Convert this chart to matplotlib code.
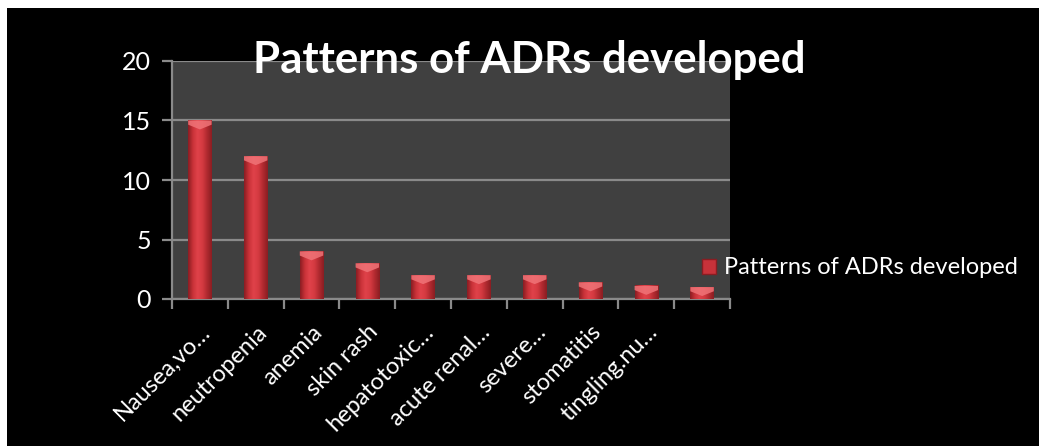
import numpy as np
import matplotlib
matplotlib.use("Agg")
import matplotlib.pyplot as plt
from matplotlib.colors import LinearSegmentedColormap
from matplotlib.patches import Rectangle, Patch, Polygon

plt.rcParams["font.family"] = ["Lato", "DejaVu Sans"]

categories = ["Nausea,vo…", "neutropenia", "anemia", "skin rash", "hepatotoxic…",
              "acute renal…", "severe…", "stomatitis", "tingling.nu…", ""]
values = [15, 12, 4, 3, 2, 2, 2, 1.4, 1.1, 1.0]
series_name = "Patterns of ADRs developed"
y_ticks = [0, 5, 10, 15, 20]

W, H = 1039, 446
fig = plt.figure(figsize=(W / 100, H / 100), dpi=100, facecolor="white")
# black chart area (white strip left/top like the screenshot)
fig.add_artist(Rectangle((7 / W, 0), 1, 1 - 8 / H, transform=fig.transFigure,
                         facecolor="black", edgecolor="none", zorder=0))

ax = fig.add_axes([172 / W, 1 - 299 / H, (730 - 172) / W, (299 - 61) / H])
ax.set_facecolor("#404040")

cmap = LinearSegmentedColormap.from_list(
    "bar", ["#8a1d22", "#c93238", "#e0424a", "#d53a41", "#b02a30", "#8a1d22"])
grad = np.linspace(0, 1, 64)[None, :]
w = 0.42
for i, v in enumerate(values):
    x0, x1 = i - w / 2, i + w / 2
    ax.imshow(grad, extent=[x0, x1, 0, v], aspect="auto", cmap=cmap,
              zorder=3, interpolation="bicubic")
    cap = Polygon([(x0, v), (x1, v), (x1, v - 0.35), (i, v - 0.75), (x0, v - 0.35)],
                  closed=True, facecolor="#f07478", edgecolor="none", alpha=0.85, zorder=4)
    ax.add_patch(cap)

ax.set_xlim(-0.5, len(values) - 0.5)
ax.set_ylim(0, 20)

ax.set_yticks(y_ticks)
ax.set_yticklabels([str(t) for t in y_ticks], color="white", fontsize=18)
ax.yaxis.grid(True, color="#8a8a8a", lw=1.6, zorder=1)
ax.set_axisbelow(True)

ax.set_xticks(np.arange(len(values) + 1) - 0.5)
ax.set_xticklabels([])
ax.set_xticks(np.arange(len(values)), minor=True)
ax.set_xticklabels(categories, minor=True, rotation=45, ha="right",
                   rotation_mode="anchor", color="white", fontsize=17)
ax.tick_params(axis="x", which="minor", length=0, pad=16)
ax.tick_params(axis="both", which="major", direction="out", length=7,
               width=1.6, color="#8a8a8a", pad=8)

for s in ["top", "right"]:
    ax.spines[s].set_visible(False)
for s in ["left", "bottom"]:
    ax.spines[s].set_color("#8a8a8a")
    ax.spines[s].set_linewidth(1.6)

fig.text(529 / W, 1 - 60 / H, series_name, color="white", fontsize=31.5,
         fontweight="bold", ha="center", va="center")

handle = Patch(facecolor="#c8323a", edgecolor="#8a1d22")
fig.legend([handle], [series_name], loc="center left",
           bbox_to_anchor=(702 / W, 1 - 268 / H), frameon=False,
           labelcolor="white", fontsize=17, handlelength=0.6, handleheight=0.6,
           handletextpad=0.35, borderpad=0, borderaxespad=0)

fig.savefig("out.png", dpi=100, facecolor=fig.get_facecolor())
